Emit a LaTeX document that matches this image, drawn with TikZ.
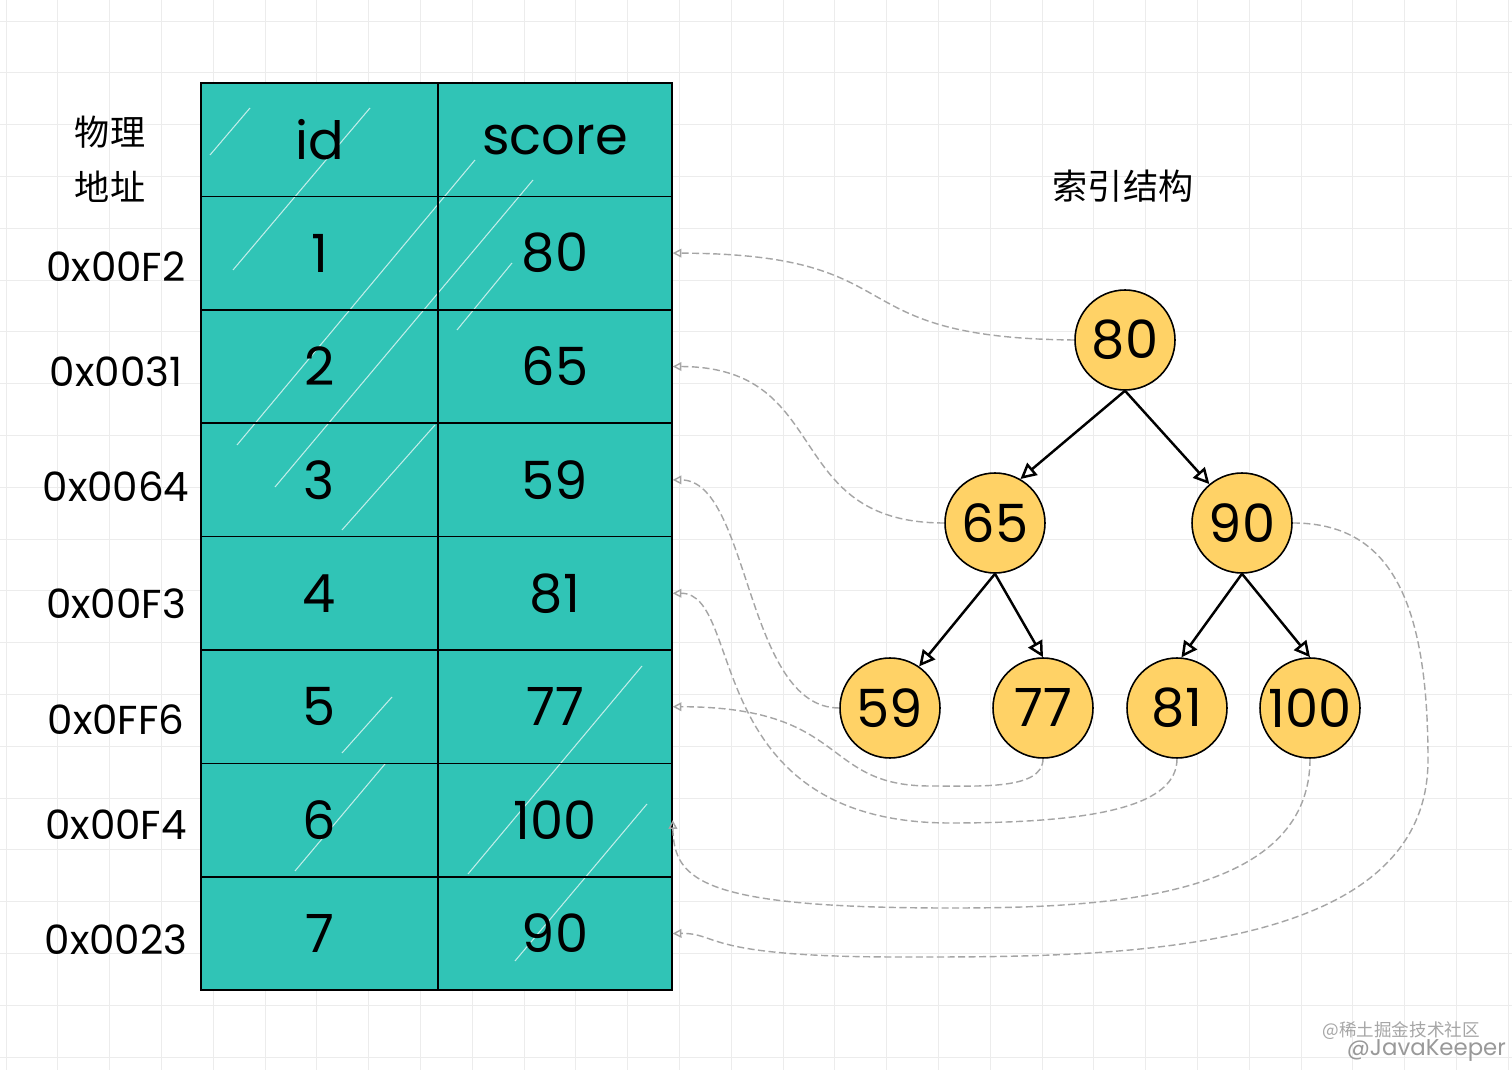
\documentclass[tikz,border=0pt]{standalone}
\usepackage{fontspec}
\setmainfont{Poppins}
\newfontfamily\cjk{Noto Sans CJK SC}
\usetikzlibrary{arrows.meta}
\definecolor{tablefill}{RGB}{48,196,182}
\definecolor{keyfill}{RGB}{255,210,102}
\definecolor{linkgray}{RGB}{165,165,165}
\definecolor{gridgray}{RGB}{236,236,236}
\tikzset{
  cell/.style={draw=black, line width=0.8pt, minimum height=2.268cm, inner sep=0pt, font=\fontsize{30}{34}\selectfont},
  idcell/.style={cell, minimum width=4.74cm},
  scorecell/.style={cell, minimum width=4.68cm},
  keynode/.style={circle, draw=black, line width=0.9pt, fill=keyfill, minimum size=2cm, inner sep=0pt, font=\fontsize{30}{34}\selectfont},
  addr/.style={font=\fontsize{23}{26}\selectfont},
  treearrow/.style={-{Triangle[open,length=9pt,width=9pt]}, line width=1.4pt},
  ptrlink/.style={-{Triangle[open,length=5pt,width=5pt]}, draw=linkgray, line width=0.8pt, dash pattern=on 4pt off 2pt},
  hatch/.style={white, line width=0.6pt, opacity=0.7}
}
\begin{document}
\begin{tikzpicture}[x=0.02cm, y=-0.02cm]
  \useasboundingbox (0,0) rectangle (1512,1070);
  \fill[white] (0,0) rectangle (1512,1070);
  \foreach \gx in {0,...,29} \draw[gridgray] ({6+51.8*\gx},0) -- ({6+51.8*\gx},1070);
  \foreach \gy in {0,...,20} \draw[gridgray] (0,{21+51.8*\gy}) -- (1512,{21+51.8*\gy});

  \fill[tablefill] (201,83) rectangle (672,990);
  \draw[hatch] (210,155) -- (250,108);
  \draw[hatch] (233,270) -- (370,108);
  \draw[hatch] (237,445) -- (475,160);
  \draw[hatch] (275,487) -- (533,180);
  \draw[hatch] (457,330) -- (512,263);
  \draw[hatch] (342,530) -- (435,425);
  \draw[hatch] (342,753) -- (392,697);
  \draw[hatch] (295,871) -- (385,764);
  \draw[hatch] (468,874) -- (642,666);
  \draw[hatch] (515,961) -- (647,804);

  \node[idcell] (hid) at (319.5,139.7) {id};
  \node[scorecell] (hscore) at (555,139.7) {score};
  \node[idcell] (i1) at (319.5,253.1) {1};
  \node[scorecell] (s1) at (555,253.1) {80};
  \node[idcell] (i2) at (319.5,366.5) {2};
  \node[scorecell] (s2) at (555,366.5) {65};
  \node[idcell] (i3) at (319.5,479.9) {3};
  \node[scorecell] (s3) at (555,479.9) {59};
  \node[idcell] (i4) at (319.5,593.3) {4};
  \node[scorecell] (s4) at (555,593.3) {81};
  \node[idcell] (i5) at (319.5,706.7) {5};
  \node[scorecell] (s5) at (555,706.7) {77};
  \node[idcell] (i6) at (319.5,820.1) {6};
  \node[scorecell] (s6) at (555,820.1) {100};
  \node[idcell] (i7) at (319.5,933.5) {7};
  \node[scorecell] (s7) at (555,933.5) {90};

  \node (phys) at (110,132) {\cjk\fontsize{20}{22}\selectfont 物理};
  \node (addrhead) at (110,187) {\cjk\fontsize{20}{22}\selectfont 地址};
  \node[addr] (a1) at (116,267) {0x00F2};
  \node[addr] (a2) at (116,372) {0x0031};
  \node[addr] (a3) at (116,487) {0x0064};
  \node[addr] (a4) at (116,604) {0x00F3};
  \node[addr] (a5) at (116,720) {0x0FF6};
  \node[addr] (a6) at (116,825) {0x00F4};
  \node[addr] (a7) at (116,940) {0x0023};

  \node (title) at (1123,186) {\cjk\fontsize{20}{22}\selectfont 索引结构};
  \node[keynode] (n80) at (1125,340) {80};
  \node[keynode] (n65) at (995,523) {65};
  \node[keynode] (n90) at (1242,523) {90};
  \node[keynode] (n59) at (890,708) {59};
  \node[keynode] (n77) at (1043,708) {77};
  \node[keynode] (n81) at (1177,708) {81};
  \node[keynode] (n100) at (1310,708) {100};

  \draw[treearrow] (n80.south) -- (n65.60);
  \draw[treearrow] (n80.south) -- (n90.130);
  \draw[treearrow] (n65.south) -- (n59.55);
  \draw[treearrow] (n65.south) -- (n77.north);
  \draw[treearrow] (n90.south) -- (n81.85);
  \draw[treearrow] (n90.south) -- (n100.north);

  \draw[ptrlink] (n80.west) .. controls (830,338) and (920,254) .. (s1.east);
  \draw[ptrlink] (n65.west) .. controls (780,523) and (835,367) .. (s2.east);
  \draw[ptrlink] (n59.west) .. controls (745,708) and (750,480) .. (s3.east);
  \draw[ptrlink] (n81.south) .. controls (1177,805) and (1100,823) .. (950,823) .. controls (700,823) and (745,593) .. (s4.east);
  \draw[ptrlink] (n77.south) .. controls (1043,790) and (980,786) .. (930,786) .. controls (820,786) and (850,707) .. (s5.east);
  \draw[ptrlink] (n100.south) .. controls (1310,900) and (1100,908) .. (950,908) .. controls (700,908) and (674,880) .. (s6.east);
  \draw[ptrlink] (n90.east) .. controls (1390,523) and (1428,600) .. (1428,760) .. controls (1428,960) and (1100,957) .. (900,957) .. controls (700,957) and (720,933) .. (s7.east);

  \node[gray!70, anchor=east] (mark1) at (1486,1031) {\cjk\fontsize{10}{12}\selectfont @稀土掘金技术社区};
  \node[gray!80, anchor=east, inner sep=1pt] (mark2) at (1508,1051) {\fontsize{13}{15}\selectfont @JavaKeeper};
\end{tikzpicture}
\end{document}
